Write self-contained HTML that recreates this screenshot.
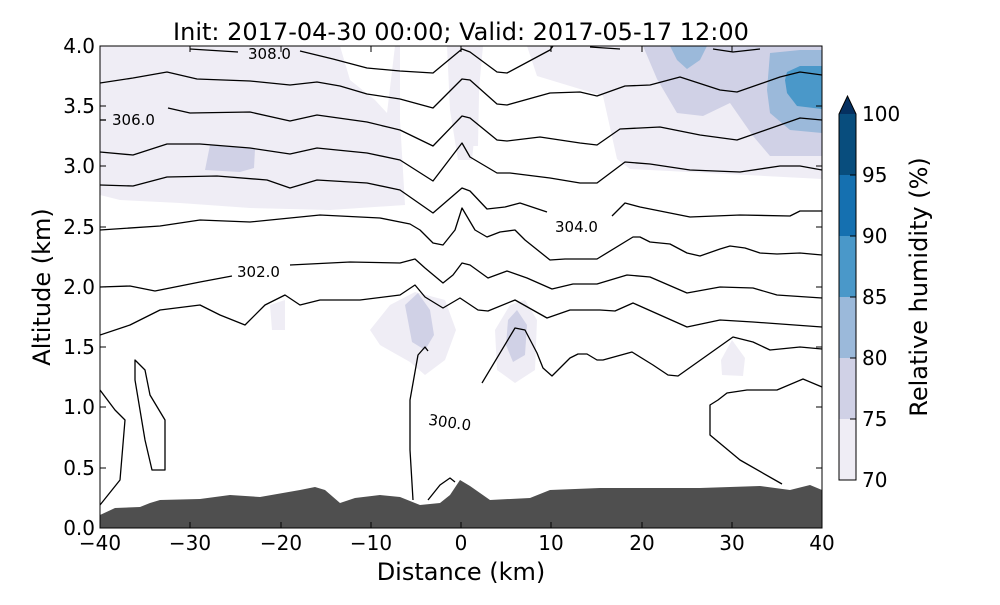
<!DOCTYPE html>
<html><head><style>body{margin:0;background:#fff}svg{font-family:"DejaVu Sans","Liberation Sans",sans-serif}</style></head><body>
<svg width="1000" height="600" viewBox="0 0 1000 600">
<defs><clipPath id="c"><rect x="100" y="46" width="722" height="482"/></clipPath></defs>
<rect width="1000" height="600" fill="#fff"/>
<g clip-path="url(#c)">
<path d="M100,46 L340,46 L350,80 L375,100 L387,113 L395,46 L400,46 L400,120 L405,205 L330,210 L250,208 L180,203 L120,200 L100,195 Z" fill="#efedf5"/>
<path d="M447,46 L483,46 L478,100 L472,160 L458,160 L450,110 Z" fill="#efedf5"/>
<path d="M470,46 L480,46 L478,146 L470,146 Z" fill="#efedf5"/>
<path d="M527,46 L822,46 L822,179 L630,169 L617,159 L603,96 L537,76 Z" fill="#efedf5"/>
<path d="M643,46 L822,46 L822,156 L770,156 L753,136 L730,103 L703,116 L677,113 L657,79 Z" fill="#d0d1e6"/>
<path d="M670,46 L707,46 L700,60 L687,69 L677,60 Z" fill="#9bb9da"/>
<path d="M770,53 L800,50 L822,50 L822,133 L790,130 L770,113 L767,90 Z" fill="#9bb9da"/>
<path d="M787,72 L800,66 L822,66 L822,109 L797,106 L787,93 L785,80 Z" fill="#4a98c9"/>
<path d="M210,145 L255,149 L254,168 L240,172 L205,170 Z" fill="#d0d1e6"/>
<path d="M370,330 L390,305 L415,292 L445,300 L456,330 L445,360 L425,375 L410,362 L380,345 Z" fill="#efedf5"/>
<path d="M405,305 L418,293 L430,310 L434,335 L425,350 L412,342 Z" fill="#d0d1e6"/>
<path d="M495,330 L510,305 L525,300 L537,320 L535,370 L515,383 L497,370 Z" fill="#efedf5"/>
<path d="M508,320 L517,310 L527,325 L525,355 L513,362 L506,345 Z" fill="#d0d1e6"/>
<path d="M721,360 L732,340 L745,358 L743,376 L722,375 Z" fill="#efedf5"/>
<path d="M270,305 L285,300 L285,330 L272,330 Z" fill="#efedf5"/>
<path d="M100,528 L100,515 L115,508 L140,507 L150,503 L160,500 L200,499 L230,495 L260,497 L300,490 L315,487 L325,490 L340,503 L355,498 L380,495 L400,497 L420,505 L440,503 L450,495 L460,480 L470,486 L490,500 L530,498 L550,490 L600,488 L700,488 L760,486 L790,490 L810,485 L822,490 L822,528 Z" fill="#4f4f4f"/>
<g fill="none" stroke="#000" stroke-width="1.3" stroke-linejoin="round">
<polyline points="190,49 238,52"/>
<polyline points="300,51 333,59 367,68 400,71 433,73 462,49 470,52 497,72 507,73 550,50 553,46"/>
<polyline points="590,47 620,49"/>
<polyline points="713,49 733,52 760,49"/>
<polyline points="100,83 133,78 167,72 197,79 250,81 290,85 317,82 340,86 367,94 400,99 433,108 462,79 470,80 497,104 507,105 550,93 580,92 597,96 625,86 650,85 680,77 720,90 737,92 780,77 800,72 822,75"/>
<polyline points="100,120 106,120"/>
<polyline points="168,108 190,113 250,112 290,121 317,115 367,122 400,130 433,146 462,116 470,118 497,140 507,141 540,137 580,143 597,145 620,129 660,127 700,135 737,140 780,125 800,118 822,120"/>
<polyline points="100,152 133,155 167,144 200,144 250,148 290,154 317,148 367,153 400,160 433,181 462,143 470,157 497,173 510,173 550,178 580,183 597,183 625,162 650,164 690,170 740,172 780,166 800,166 822,170"/>
<polyline points="100,185 133,186 167,177 217,176 267,180 290,188 317,180 367,183 400,190 433,213 462,188 470,191 487,209 505,207 520,203 547,212"/>
<polyline points="612,216 625,203 640,207 690,217 740,215 790,216 800,211 822,211"/>
<polyline points="100,230 160,226 200,220 250,222 320,215 380,218 410,224 420,230 433,243 443,245 455,230 462,208 475,230 487,237 500,232 515,230 525,240 550,260 565,259 597,259 633,237 640,237 650,242 670,244 687,253 700,256 720,249 730,246 745,248 760,253 777,254 800,253 822,255"/>
<polyline points="100,287 130,286 155,291 200,282 232,276"/>
<polyline points="290,265 350,262 400,263 415,259 425,268 443,283 453,275 462,263 470,265 488,278 507,271 527,278 552,289 573,284 597,284 627,275 650,277 687,293 720,287 753,288 777,295 822,298"/>
<polyline points="100,335 130,325 160,310 200,305 220,315 245,325 265,305 285,295 300,305 320,300 360,300 400,295 415,285 425,297 443,308 460,298 478,310 488,311 515,300 547,318 570,310 600,310 615,311 633,303 687,327 720,320 753,322 822,327"/>
<polyline points="482,383 515,328 525,330 537,353 543,368 552,376 570,358 578,354 587,354 597,360 603,360 632,352 653,365 668,375 678,376 733,337 753,342 770,350 800,347 822,349"/>
<polyline points="782,484 740,460 710,435 710,405 718,400 727,393 747,390 777,390 803,379 822,387"/>
<polyline points="100,390 115,410 125,420 120,480 100,505"/>
<path d="M135,360 L145,370 L150,395 L165,420 L165,470 L152,470 L145,440 L140,410 L135,380 Z"/>
<polyline points="428,351 425,347 418,355 410,400 410,450 413,500"/>
<polyline points="428,500 440,485 450,478 455,482"/>
</g>
<g font-size="15" fill="#000">
<text x="248" y="59">308.0</text>
<text x="112" y="125">306.0</text>
<text x="555" y="232">304.0</text>
<text x="237" y="277">302.0</text>
<text x="428" y="428" transform="rotate(8 452 425)">300.0</text>
</g>
</g>
<rect x="100" y="46" width="722" height="482" fill="none" stroke="#000" stroke-width="1"/>
<g stroke="#000" stroke-width="1">
<path d="M190,528v-6M281,528v-6M371,528v-6M461,528v-6M551,528v-6M642,528v-6M732,528v-6M190,46v6M281,46v6M371,46v6M461,46v6M551,46v6M642,46v6M732,46v6"/>
<path d="M100,468h6M100,407h6M100,347h6M100,287h6M100,227h6M100,166h6M100,106h6M822,468h-6M822,407h-6M822,347h-6M822,287h-6M822,227h-6M822,166h-6M822,106h-6"/>
</g>
<g font-size="20" fill="#000" text-anchor="middle">
<text x="100" y="550">−40</text><text x="190" y="550">−30</text><text x="281" y="550">−20</text><text x="371" y="550">−10</text><text x="461" y="550">0</text><text x="551" y="550">10</text><text x="642" y="550">20</text><text x="732" y="550">30</text><text x="822" y="550">40</text>
</g>
<g font-size="20" fill="#000" text-anchor="end">
<text x="95" y="535">0.0</text><text x="95" y="475">0.5</text><text x="95" y="414">1.0</text><text x="95" y="354">1.5</text><text x="95" y="294">2.0</text><text x="95" y="234">2.5</text><text x="95" y="173">3.0</text><text x="95" y="113">3.5</text><text x="95" y="53">4.0</text>
</g>
<text x="461" y="580" font-size="24" text-anchor="middle">Distance (km)</text>
<text x="50" y="287" font-size="24" text-anchor="middle" transform="rotate(-90 50 287)">Altitude (km)</text>
<text x="461" y="40" font-size="24" text-anchor="middle">Init: 2017-04-30 00:00; Valid: 2017-05-17 12:00</text>
<rect x="839" y="419" width="17" height="61" fill="#efedf5"/>
<rect x="839" y="358" width="17" height="61" fill="#d0d1e6"/>
<rect x="839" y="297" width="17" height="61" fill="#9bb9da"/>
<rect x="839" y="236" width="17" height="61" fill="#4a98c9"/>
<rect x="839" y="175" width="17" height="61" fill="#1570b0"/>
<rect x="839" y="114" width="17" height="61" fill="#084d7d"/>
<path d="M839,114 L847.5,96 L856,114 Z" fill="#053060"/>
<path d="M839,480 L839,114 L847.5,96 L856,114 L856,480 Z" fill="none" stroke="#000"/>
<g stroke="#000"><path d="M850,419h6M850,358h6M850,297h6M850,236h6M850,175h6"/></g>
<g font-size="20"><text x="862" y="487">70</text><text x="862" y="426">75</text><text x="862" y="365">80</text><text x="862" y="304">85</text><text x="862" y="243">90</text><text x="862" y="182">95</text><text x="862" y="121">100</text></g>
<text x="927" y="287" font-size="24" text-anchor="middle" transform="rotate(-90 927 287)">Relative humidity (%)</text>
</svg>
</body></html>
